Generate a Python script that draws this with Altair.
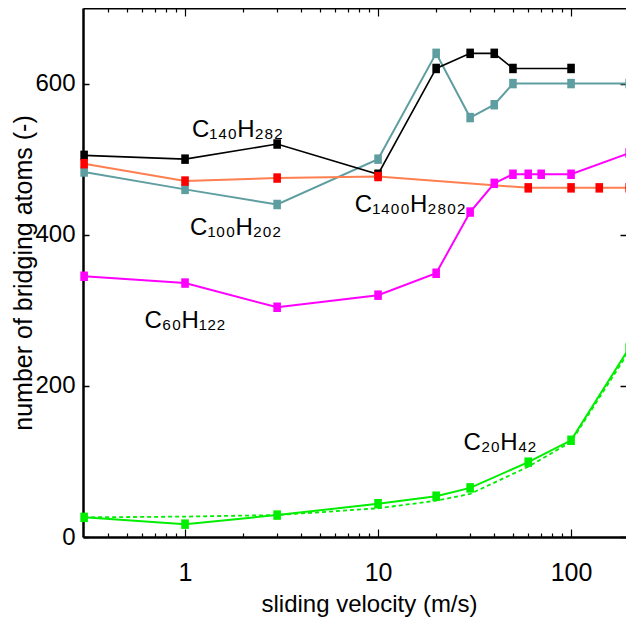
import altair as alt
import pandas as pd

# ---------------- data ----------------
v_black = [0.3, 1, 3, 10, 20, 30, 40, 50, 100]
n_black = [505, 500, 520, 480, 620, 640, 640, 620, 620]

v_teal = [0.3, 1, 3, 10, 20, 30, 40, 50, 100, 200]
n_teal = [483, 460, 440, 500, 640, 555, 572, 600, 600, 600]

v_red = [0.3, 1, 3, 10, 60, 100, 140, 200]
n_red = [494, 471, 475, 477, 462, 462, 462, 462]

v_mag = [0.3, 1, 3, 10, 20, 30, 40, 50, 60, 70, 100, 200]
n_mag = [345, 336, 304, 320, 349, 430, 468, 480, 480, 480, 480, 508]

v_green = [0.3, 1, 3, 10, 20, 30, 60, 100, 200]
n_green = [26, 17, 29, 44, 54, 65, 99, 128, 250]
n_green_dash = [26, 27, 29, 38, 48, 57, 93, 126, 246]

label_text = ["C₁₄₀H₂₈₂", "C₁₀₀H₂₀₂", "C₁₄₀₀H₂₈₀₂", "C₆₀H₁₂₂", "C₂₀H₄₂"]
label_v = [1.87, 1.83, 14.7, 1.0, 42.9]
label_n = [529, 400, 430, 277, 115]

x_major = [1, 10, 100]
x_minor = [0.4, 0.5, 0.6, 0.7, 0.8, 0.9, 2, 3, 4, 5, 6, 7, 8, 9,
           20, 30, 40, 50, 60, 70, 80, 90]
y_ticks = [0, 200, 400, 600]

x_title = "sliding velocity (m/s)"
y_title = "number of bridging atoms (-)"

# ---------------- layout / style ----------------
PAD_L = 75
W, H = 543, 529
FONT = "Liberation Sans, Arial, sans-serif"
RECT = "M-0.8,-1H0.8V1H-0.8Z"

xs = alt.Scale(type="log", domain=[0.296, 192.6], nice=False)
ys = alt.Scale(domain=[0, 700], nice=False, zero=False)


def series(v, n, line_color, marker_color=None, width=2.0, dash=None):
    df = pd.DataFrame({"v": v, "n": n})
    base = alt.Chart(df).encode(
        x=alt.X("v:Q", scale=xs, axis=None),
        y=alt.Y("n:Q", scale=ys, axis=None),
    )
    kw = dict(color=line_color, strokeWidth=width, clip=False)
    if dash:
        kw["strokeDash"] = dash
    out = [base.mark_line(**kw)]
    if marker_color:
        out.append(base.mark_point(shape=RECT, filled=True, size=90,
                                   color=marker_color, opacity=1, clip=False))
    return out


layers = []
layers += series(v_green, n_green_dash, "#00ee00", None, 1.8, [4, 3])
layers += series(v_green, n_green, "#00ee00", "#00ee00", 2.0)
layers += series(v_teal, n_teal, "#5f9ea0", "#5f9ea0", 2.0)
layers += series(v_black, n_black, "black", "black", 1.6)
layers += series(v_red, n_red, "#ff7f50", "#ff0000", 2.0)
layers += series(v_mag, n_mag, "#ff00ff", "#ff00ff", 2.0)

lab_df = pd.DataFrame({"v": label_v, "n": label_n, "t": label_text})
layers.append(
    alt.Chart(lab_df).mark_text(align="center", baseline="alphabetic",
                                font=FONT, fontSize=24, color="black")
    .encode(x=alt.X("v:Q", scale=xs, axis=None),
            y=alt.Y("n:Q", scale=ys, axis=None),
            text="t:N")
)

dummy = pd.DataFrame({"v": [1], "n": [0]})
major_test = "indexof([1, 10, 100], datum.value) >= 0"
tick_size_x = {"condition": {"test": major_test, "value": 8}, "value": 4}


def axis_layer(xaxis=None, yaxis=None):
    xe = alt.X("v:Q", scale=xs, axis=xaxis) if xaxis is not None else alt.X("v:Q", scale=xs, axis=None)
    ye = alt.Y("n:Q", scale=ys, axis=yaxis) if yaxis is not None else alt.Y("n:Q", scale=ys, axis=None)
    return alt.Chart(dummy).mark_point(opacity=0).encode(x=xe, y=ye)


# left y axis: labels, spine, title
layers.append(axis_layer(yaxis=alt.Axis(
    orient="left", values=y_ticks, ticks=False, domain=True, domainColor="black",
    domainWidth=2.5, grid=False, labelFont=FONT, labelFontSize=24,
    labelColor="black", labelPadding=8, title=y_title, titleFont=FONT,
    titleFontSize=25, titleFontWeight="normal", titleColor="black",
    titleAngle=270, titleBaseline="alphabetic", titleAlign="center",
    titleX=-52, titleY=H / 2)))
# inward ticks on left edge
layers.append(axis_layer(yaxis=alt.Axis(
    orient="right", offset=-W, values=y_ticks, ticks=True, tickSize=6,
    tickWidth=1.5, tickColor="black", labels=False, domain=False, grid=False,
    title="")))
# inward ticks on right edge
layers.append(axis_layer(yaxis=alt.Axis(
    orient="left", offset=-W, values=y_ticks, ticks=True, tickSize=6,
    tickWidth=1.5, tickColor="black", labels=False, domain=False, grid=False,
    title="")))
# bottom x axis: labels, spine, title
layers.append(axis_layer(xaxis=alt.Axis(
    orient="bottom", values=x_major, format="d", ticks=False, domain=True,
    domainColor="black", domainWidth=2.5, grid=False, labelFont=FONT,
    labelFontSize=25, labelColor="black", labelPadding=23, title=x_title,
    titleFont=FONT, titleFontSize=24, titleFontWeight="normal",
    titleColor="black", titleBaseline="alphabetic", titleAlign="center",
    titleX=286, titleY=74)))
# inward ticks on bottom edge
layers.append(axis_layer(xaxis=alt.Axis(
    orient="top", offset=-H, values=x_major + x_minor, ticks=True,
    tickSize=tick_size_x, tickWidth=1.2, tickColor="black", labels=False,
    domain=False, grid=False, title="")))
# top border with inward ticks
layers.append(axis_layer(xaxis=alt.Axis(
    orient="bottom", offset=-H, values=x_major + x_minor, ticks=True,
    tickSize=tick_size_x, tickWidth=1.2, tickColor="black", labels=False,
    domain=True, domainColor="black", domainWidth=2, grid=False, title="")))

chart = (
    alt.layer(*layers)
    .resolve_scale(x="independent", y="independent")
    .properties(width=W, height=H,
                padding={"left": PAD_L, "top": 0, "right": 0, "bottom": 83},
                autosize=alt.AutoSizeParams(type="none"),
                background="white")
    .configure_view(strokeWidth=0)
)

chart.save("out.html", embed_options={"renderer": "svg", "actions": False})
